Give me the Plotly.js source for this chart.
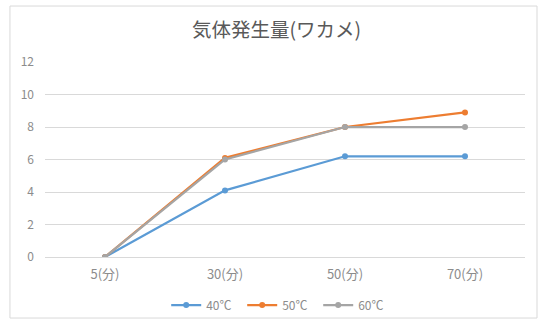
<!DOCTYPE html>
<html><head><meta charset="utf-8">
<script src="https://cdn.plot.ly/plotly-3.0.1.min.js"></script>
<style>html,body{margin:0;padding:0;background:#fff;}#chart{width:538px;height:327px;}</style>
</head><body><div id="chart"></div>
<script>
const categories = ["5(分)", "30(分)", "50(分)", "70(分)"];
const series40 = [0, 4.1, 6.2, 6.2];
const series50 = [0, 6.1, 8.0, 8.9];
const series60 = [0, 6.0, 8.0, 8.0];
const seriesNames = ["40℃", "50℃", "60℃"];
const colors = ["#5B9BD5", "#ED7D31", "#A5A5A5"];

const font = "'Noto Sans CJK JP', 'Noto Sans', sans-serif";
const data = [series40, series50, series60].map((vals, i) => ({
  type: 'scatter', mode: 'lines+markers', x: categories, y: vals, name: seriesNames[i],
  line: {color: colors[i], width: 2.25}, marker: {color: colors[i], size: 6, symbol: 'circle'}
}));

const layout = {
  width: 538, height: 327,
  margin: {l: 45, r: 13, t: 62, b: 70},
  paper_bgcolor: '#fff', plot_bgcolor: '#fff',
  font: {family: font, color: '#595959', size: 11},
  title: {text: '気体発生量(ワカメ)', x: 0.514, xanchor: 'center', y: 0.908, yanchor: 'middle',
          font: {family: font, size: 19.5, color: '#595959'}},
  xaxis: {type: 'category', range: [-0.5, 3.5], showgrid: false, zeroline: false,
          showline: false, ticks: '', tickfont: {size: 13, color: '#8c8c8c'}, ticklabelstandoff: 8},
  yaxis: {range: [0, 12], dtick: 2, showgrid: true, gridcolor: '#D9D9D9', gridwidth: 1,
          zeroline: true, zerolinecolor: '#D9D9D9', showline: false, ticks: '',
          tickfont: {size: 12, color: '#8c8c8c'}, ticklabelstandoff: 10},
  showlegend: true,
  legend: {orientation: 'h', xref: 'paper', x: 0.49, xanchor: 'center',
           yref: 'container', y: 0.067, yanchor: 'middle', bgcolor: 'rgba(0,0,0,0)',
           font: {size: 12, color: '#8c8c8c'}, entrywidth: 31},
  shapes: [{type: 'rect', xref: 'paper', yref: 'paper', x0: -0.073, x1: 1.025, y0: -0.313, y1: 1.287,
            line: {color: '#D9D9D9', width: 1}, fillcolor: 'rgba(0,0,0,0)', layer: 'below'}]
};
Plotly.newPlot('chart', data, layout, {staticPlot: true, displayModeBar: false});
</script></body></html>
